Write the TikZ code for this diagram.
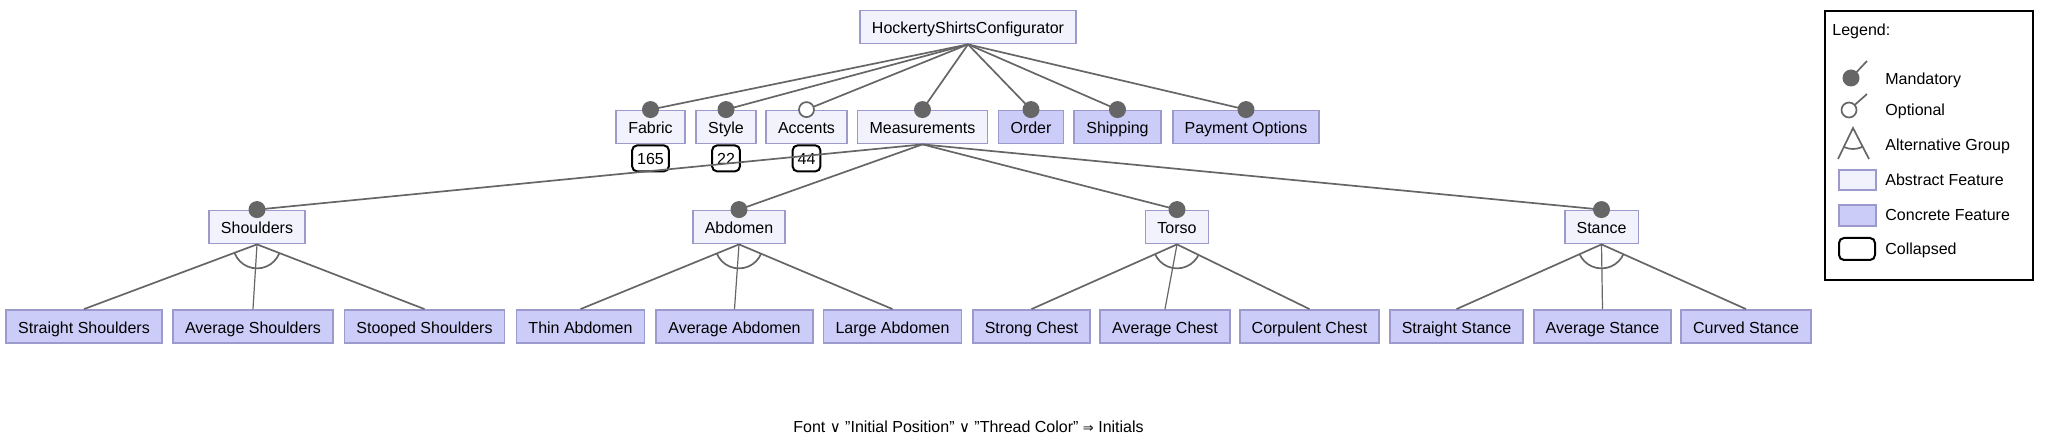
\documentclass[tikz,border=0pt]{standalone}
\usepackage{fontspec}
\setmainfont{Liberation Sans}
\newfontfamily\symfont{DejaVu Sans}
\definecolor{fmabstract}{HTML}{F2F2FC}
\definecolor{fmconcrete}{HTML}{CCCCF9}
\definecolor{fmborder}{HTML}{9C99CC}
\definecolor{fmline}{HTML}{666666}
\tikzset{
  feature/.style={draw=fmborder,line width=0.9pt,minimum height=16.5pt,inner xsep=6pt,inner ysep=0pt,text height=6.8pt,text depth=0.2pt,font=\fontsize{8}{9.6}\selectfont},
  abstract/.style={feature,fill=fmabstract},
  concrete/.style={feature,fill=fmconcrete},
  collapsed/.style={draw=black,line width=1pt,rounded corners=2.5pt,minimum height=13pt,inner xsep=2.5pt,inner ysep=0pt,text height=6.6pt,text depth=0.2pt,font=\fontsize{8}{9.6}\selectfont},
  edge/.style={draw=fmline,line width=0.85pt},
  mandatory/.style={circle,fill=fmline,inner sep=0pt,minimum size=8.5pt},
  optional/.style={circle,draw=fmline,fill=white,line width=0.85pt,inner sep=0pt,minimum size=7.5pt},
  legendtext/.style={anchor=west,inner sep=0pt,text height=6pt,text depth=0.6pt,font=\fontsize{8}{9.6}\selectfont}
}
\begin{document}
\begin{tikzpicture}[x=0.5pt,y=-0.5pt]
\useasboundingbox (0,0) rectangle (2046,442);
\pgfmathsetmacro{\rowa}{27}
\pgfmathsetmacro{\rowb}{127}
\pgfmathsetmacro{\rowc}{227}
\pgfmathsetmacro{\rowd}{326.5}

\node[abstract] (root) at (968,\rowa) {HockertyShirtsConfigurator};

\node[abstract] (fabric) at (650.5,\rowb) {Fabric};
\node[abstract] (style) at (726,\rowb) {Style};
\node[abstract] (accents) at (806.5,\rowb) {Accents};
\node[abstract] (meas) at (922.5,\rowb) {Measurements};
\node[concrete] (order) at (1031,\rowb) {Order};
\node[concrete] (ship) at (1117.5,\rowb) {Shipping};
\node[concrete] (pay) at (1246,\rowb) {Payment Options};

\node[collapsed,anchor=north] (fabricc) at (fabric.south) {165};
\node[collapsed,anchor=north] (stylec) at (style.south) {22};
\node[collapsed,anchor=north] (accentsc) at (accents.south) {44};

\node[abstract] (shoulders) at (257,\rowc) {Shoulders};
\node[abstract] (abdomen) at (739,\rowc) {Abdomen};
\node[abstract] (torso) at (1177,\rowc) {Torso};
\node[abstract] (stance) at (1601.5,\rowc) {Stance};

\foreach \n/\x/\t in {sshoulders/84/Straight Shoulders,ashoulders/253/Average Shoulders,tshoulders/424.5/Stooped Shoulders,
  tabdomen/580.5/Thin Abdomen,aabdomen/734.5/Average Abdomen,labdomen/892.5/Large Abdomen,
  schest/1031.5/Strong Chest,achest/1165/Average Chest,cchest/1309.5/Corpulent Chest,
  sstance/1456.5/Straight Stance,astance/1602.5/Average Stance,cstance/1746/Curved Stance}
  \node[concrete] (\n) at (\x,\rowd) {\t};

\foreach \c in {fabric,style,accents,meas,order,ship,pay}
  \draw[edge] (root.south) -- (\c.north);
\foreach \c in {shoulders,abdomen,torso,stance}
  \draw[edge] (meas.south) -- (\c.north);

\foreach \p/\a/\b/\c in {shoulders/sshoulders/ashoulders/tshoulders,abdomen/tabdomen/aabdomen/labdomen,
  torso/schest/achest/cchest,stance/sstance/astance/cstance}{
  \draw[edge] (\p.south) -- (\a.north) (\p.south) -- (\c.north);
  \draw[edge,line width=0.6pt] (\p.south) -- (\b.north);
  \begin{scope}
    \clip (\p.south) -- (\a.north) -- (\c.north) -- cycle;
    \draw[edge] (\p.south) circle (12pt);
  \end{scope}
}

\foreach \c in {fabric,style,meas,order,ship,pay,shoulders,abdomen,torso,stance}
  \node[mandatory] (\c-m) at (\c.north) {};
\node[optional] (accents-o) at (accents.north) {};

\node[font=\fontsize{8}{9.6}\selectfont] (constraint) at (968.5,427) {Font {\symfont\fontsize{7.5}{8}\selectfont ∨} "Initial Position" {\symfont\fontsize{7.5}{8}\selectfont ∨} "Thread Color" {\symfont\fontsize{6.5}{8}\selectfont ⇒} Initials};

\draw[black,line width=1pt] (1825,11) rectangle (2033,280);
\node[legendtext] (legend) at (1832,30) {Legend:};
\coordinate (lm) at (1851,78);
\coordinate (lmend) at (1867,61);
\draw[edge] (lm) -- (lmend);
\node[mandatory] (lm-m) at (lm) {};
\node[legendtext] (lmt) at (1885,79) {Mandatory};
\coordinate (lo) at (1849,110);
\coordinate (loend) at (1867,94);
\draw[edge] (lo) -- (loend);
\node[optional] (lo-o) at (lo) {};
\node[legendtext] (lot) at (1885,110) {Optional};
\coordinate (la) at (1853,128);
\coordinate (laleft) at (1838,159);
\coordinate (laright) at (1869,159);
\draw[edge] (laleft) -- (la) -- (laright);
\begin{scope}
  \clip (la) -- (laleft) -- (laright) -- cycle;
  \draw[edge] (la) circle (10.5pt);
\end{scope}
\node[legendtext] (lat) at (1885,145) {Alternative Group};
\draw[draw=fmborder,fill=fmabstract,line width=0.9pt] (1839,170) rectangle (1876,190);
\node[legendtext] (lbt) at (1885,180) {Abstract Feature};
\draw[draw=fmborder,fill=fmconcrete,line width=0.9pt] (1839,205) rectangle (1876,226);
\node[legendtext] (lct) at (1885,215) {Concrete Feature};
\draw[black,line width=1pt,rounded corners=2.5pt] (1839,238) rectangle (1875,260);
\node[legendtext] (ldt) at (1885,249) {Collapsed};
\end{tikzpicture}
\end{document}
